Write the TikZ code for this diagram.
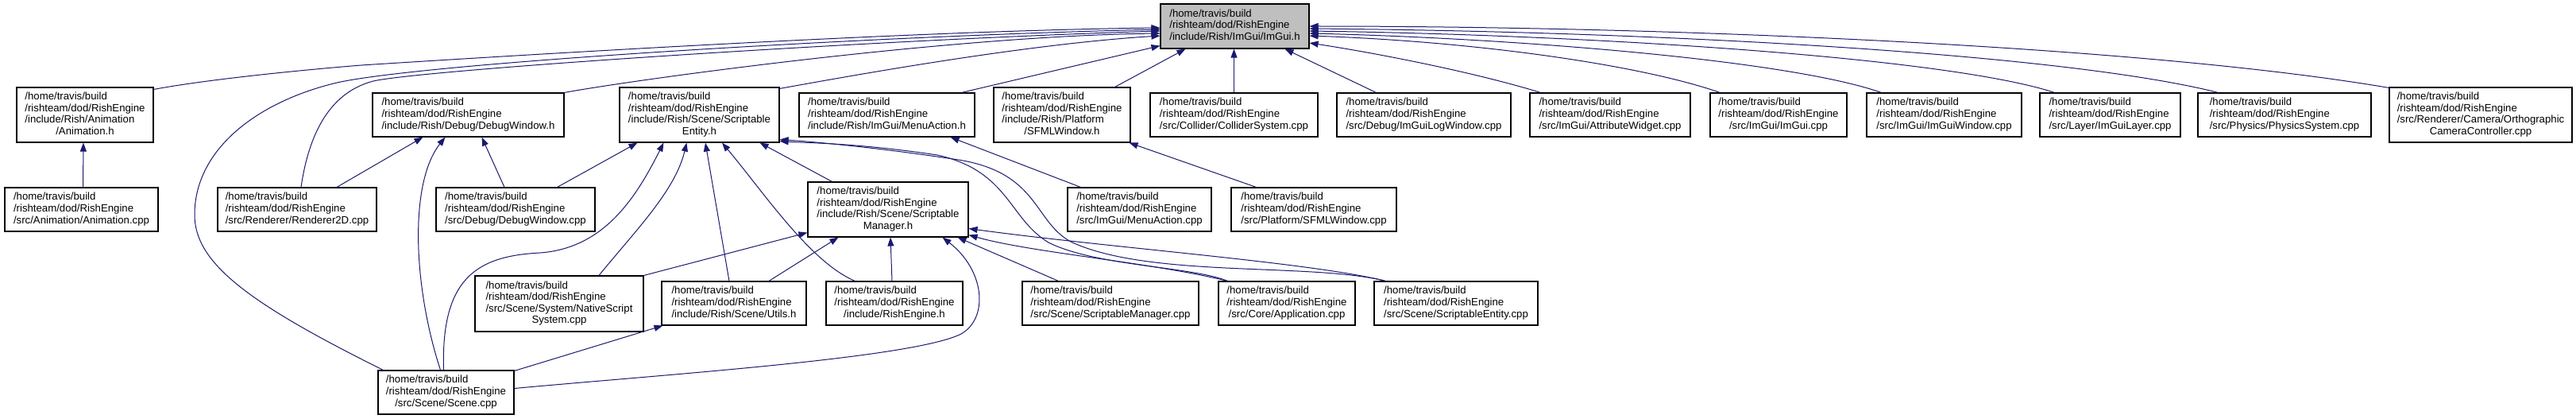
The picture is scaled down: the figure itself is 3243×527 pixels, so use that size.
\documentclass[tikz,border=0pt]{standalone}
\usepackage{fontspec}
\setmainfont{Liberation Sans}
\usetikzlibrary{arrows.meta,calc}
\definecolor{navy}{HTML}{191970}
\definecolor{hgray}{HTML}{BFBFBF}
\newcommand{\hdr}{/home/travis/build\\/rishteam/dod/RishEngine}
\newcommand{\lbl}[2]{\begin{tabular}{@{}l@{}}\hdr\\#1\multicolumn{1}{@{}c@{}}{#2}\end{tabular}}
\newcommand{\bx}[6]{\node[box,minimum width=#4pt,minimum height=#5pt] (#1) at (#2,#3) {#6};}
\begin{document}
\begin{tikzpicture}[x=1pt,y=-1pt,
  box/.style={draw=black,line width=1.1pt,fill=white,inner sep=0pt,font=\fontsize{13.2}{14.6}\selectfont},
  dep/.style={draw=navy,line width=1pt,-{Triangle[length=11pt,width=8pt]}}]
\fill[white] (0,0) rectangle (3243,527);
\useasboundingbox (0,0) rectangle (3243,527);
% top
\bx{imgui}{1554.5}{33}{187}{56}{\lbl{}{/include/Rish/ImGui/ImGui.h}}
\node[box,fill=hgray,minimum width=187pt,minimum height=56pt] at (imgui) {\lbl{}{/include/Rish/ImGui/ImGui.h}};
% row 1
\bx{anim_h}{107}{144.5}{172}{69}{\lbl{/include/Rish/Animation\\}{/Animation.h}}
\bx{debugwin_h}{589.5}{144.5}{241}{55}{\lbl{}{/include/Rish/Debug/DebugWindow.h}}
\bx{sent_h}{880.5}{144.5}{201}{69}{\lbl{/include/Rish/Scene/Scriptable\\}{Entity.h}}
\bx{menu_h}{1116.5}{144.5}{221}{55}{\lbl{}{/include/Rish/ImGui/MenuAction.h}}
\bx{sfml_h}{1337}{144.5}{172}{69}{\lbl{/include/Rish/Platform\\}{/SFMLWindow.h}}
\bx{collider}{1553.5}{144.5}{211}{55}{\lbl{}{/src/Collider/ColliderSystem.cpp}}
\bx{logwin}{1792.5}{144.5}{219}{55}{\lbl{}{/src/Debug/ImGuiLogWindow.cpp}}
\bx{attr}{2027}{144.5}{202}{55}{\lbl{}{/src/ImGui/AttributeWidget.cpp}}
\bx{imguicpp}{2239}{144.5}{172}{55}{\lbl{}{/src/ImGui/ImGui.cpp}}
\bx{imguiwin}{2447.5}{144.5}{195}{55}{\lbl{}{/src/ImGui/ImGuiWindow.cpp}}
\bx{layer}{2656.5}{144.5}{177}{55}{\lbl{}{/src/Layer/ImGuiLayer.cpp}}
\bx{physics}{2876}{144.5}{218}{55}{\lbl{}{/src/Physics/PhysicsSystem.cpp}}
\bx{camera}{3123}{144.5}{230}{69}{\lbl{/src/Renderer/Camera/Orthographic\\}{CameraController.cpp}}
% row 2
\bx{anim_cpp}{102.5}{263.5}{193}{55}{\lbl{}{/src/Animation/Animation.cpp}}
\bx{renderer}{374}{263.5}{200}{55}{\lbl{}{/src/Renderer/Renderer2D.cpp}}
\bx{debugwin_cpp}{649}{263.5}{200}{55}{\lbl{}{/src/Debug/DebugWindow.cpp}}
\bx{sman_h}{1118}{263.5}{202}{69}{\lbl{/include/Rish/Scene/Scriptable\\}{Manager.h}}
\bx{menu_cpp}{1434.5}{263.5}{181}{55}{\lbl{}{/src/ImGui/MenuAction.cpp}}
\bx{sfml_cpp}{1654}{263.5}{208}{55}{\lbl{}{/src/Platform/SFMLWindow.cpp}}
% row 3
\bx{native}{704}{382}{212}{70}{\lbl{/src/Scene/System/NativeScript\\}{System.cpp}}
\bx{utils}{924}{381.5}{182}{55}{\lbl{}{/include/Rish/Scene/Utils.h}}
\bx{rish_h}{1126}{381.5}{172}{55}{\lbl{}{/include/RishEngine.h}}
\bx{sman_cpp}{1398}{381.5}{222}{55}{\lbl{}{/src/Scene/ScriptableManager.cpp}}
\bx{app}{1620}{381.5}{172}{55}{\lbl{}{/src/Core/Application.cpp}}
\bx{sent_cpp}{1833}{381.5}{206}{55}{\lbl{}{/src/Scene/ScriptableEntity.cpp}}
% row 4
\bx{scene}{561.5}{493.5}{171}{55}{\lbl{}{/src/Scene/Scene.cpp}}

% edges into ImGui.h (left)
\draw[dep] ($(anim_h.north east)+(0,3)$) .. controls (260,100) and (380,88) .. (455,82) .. controls (800,60) and (1200,38) .. ($(imgui.west)+(0,2)$);
\draw[dep] ($(scene.north west)+(7,0)$) .. controls (310,380) and (245,330) .. (245,270) .. controls (245,190) and (320,130) .. (420,105) .. controls (520,80) and (1100,45) .. ($(imgui.west)+(0,4)$);
\draw[dep] ($(renderer.north)+(5,0)$) .. controls (390,160) and (420,115) .. (470,102) .. controls (530,88) and (1100,50) .. ($(imgui.west)+(0,6)$);
\draw[dep] (debugwin_h.north east) .. controls (800,100) and (1200,45) .. ($(imgui.west)+(0,9)$);
\draw[dep] ($(sent_h.north east)+(0,2)$) .. controls (1100,90) and (1300,55) .. ($(imgui.west)+(0,12)$);
\draw[dep] ($(menu_h.north east)+(-17,0)$) -- ($(imgui.south west)+(0,-4)$);
\draw[dep] ($(sfml_h.north east)+(-20,0)$) -- ($(imgui.south west)+(32,0)$);
\draw[dep] (collider.north) -- (collider.north |- imgui.south);
\draw[dep] ($(logwin.north west)+(50,0)$) -- ($(imgui.south)+(63,0)$);
% edges into ImGui.h (right)
\draw[dep] ($(attr.north west)+(14,0)$) .. controls (1860,92) and (1740,68) .. ($(imgui.east)+(0,21)$);
\draw[dep] ($(imguicpp.north west)+(13,0)$) .. controls (2060,80) and (1850,52) .. ($(imgui.east)+(0,12)$);
\draw[dep] ($(imguiwin.north west)+(19,0)$) .. controls (2250,75) and (1900,48) .. ($(imgui.east)+(0,9)$);
\draw[dep] ($(layer.north west)+(19,0)$) .. controls (2450,72) and (2000,44) .. ($(imgui.east)+(0,6)$);
\draw[dep] ($(physics.north west)+(26,0)$) .. controls (2600,68) and (2100,40) .. ($(imgui.east)+(0,3)$);
\draw[dep] ($(camera.north west)+(0,1)$) .. controls (2700,58) and (2100,33) .. (imgui.east);
% other edges
\draw[dep] ($(anim_cpp.north)+(2,0)$) -- ($(anim_h.south)+(-2,0)$);
\draw[dep] ($(renderer.north)+(50,0)$) -- ($(debugwin_h.south west)+(64,0)$);
\draw[dep] ($(scene.north)+(-7,0)$) .. controls (520,360) and (515,230) .. ($(debugwin_h.south west)+(92,0)$);
\draw[dep] ($(debugwin_cpp.north)+(-14,0)$) -- ($(debugwin_h.south)+(17,0)$);
\draw[dep] ($(debugwin_cpp.north east)+(-48,0)$) -- ($(sent_h.south west)+(23,0)$);
\draw[dep] ($(scene.north)+(-3,0)$) .. controls (555,350) and (600,322) .. (680,318) .. controls (760,312) and (800,250) .. ($(sent_h.south west)+(56,0)$);
\draw[dep] ($(native.north)+(50,0)$) .. controls (800,290) and (850,240) .. ($(sent_h.south west)+(85,0)$);
\draw[dep] ($(utils.north)+(-6,0)$) -- ($(sent_h.south)+(7.5,0)$);
\draw[dep] ($(rish_h.north west)+(37,0)$) .. controls (1020,330) and (960,240) .. ($(sent_h.south)+(28.5,0)$);
\draw[dep] ($(sman_h.north west)+(31,0)$) -- ($(sent_h.south east)+(-25,0)$);
\draw[dep] ($(app.north west)+(12,0)$) .. controls (1500,335) and (1380,335) .. (1320,305) .. controls (1270,275) and (1270,215) .. (1180,195) .. controls (1080,180) and (1020,180) .. ($(sent_h.south east)+(0,-2)$);
\draw[dep] ($(sent_cpp.north west)+(15,0)$) .. controls (1650,330) and (1450,350) .. (1350,305) .. controls (1300,280) and (1310,215) .. (1200,200) .. controls (1100,185) and (1020,178) .. ($(sent_h.south east)+(0,-4)$);
\draw[dep] (native.north east) -- ($(sman_h.south west)+(0,-6)$);
\draw[dep] ($(utils.north)+(44,0)$) -- ($(sman_h.south west)+(39,0)$);
\draw[dep] ($(rish_h.north)+(-3,0)$) -- ($(sman_h.south)+(3,0)$);
\draw[dep] ($(sman_cpp.north west)+(46,0)$) -- ($(sman_h.south east)+(-14,0)$);
\draw[dep] ($(scene.east)+(0,-5)$) .. controls (850,470) and (1150,450) .. (1210,420) .. controls (1245,400) and (1240,340) .. ($(sman_h.south east)+(-33,0)$);
\draw[dep] ($(scene.north east)+(0,1)$) -- ($(utils.south west)+(2,0)$);
\draw[dep] ($(app.north west)+(12,0)$) .. controls (1450,330) and (1300,318) .. ($(sman_h.south east)+(0,-3)$);
\draw[dep] ($(sent_cpp.north west)+(15,0)$) .. controls (1650,330) and (1400,312) .. ($(sman_h.east)+(0,24)$);
\draw[dep] ($(menu_cpp.north west)+(17,0)$) -- ($(menu_h.south east)+(-31,0)$);
\draw[dep] ($(sfml_cpp.north west)+(32,0)$) -- ($(sfml_h.south east)+(-2,0)$);
\end{tikzpicture}
\end{document}
